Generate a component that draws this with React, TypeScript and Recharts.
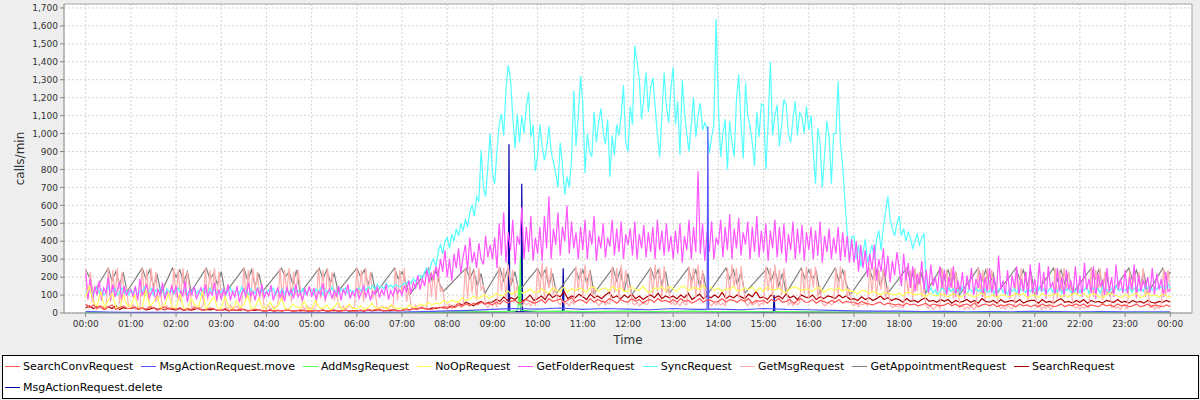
import { LineChart, Line, XAxis, YAxis, CartesianGrid, Legend, ReferenceLine } from "recharts";

const seriesNames = [
  "SearchConvRequest",
  "MsgActionRequest.move",
  "AddMsgRequest",
  "NoOpRequest",
  "GetFolderRequest",
  "SyncRequest",
  "GetMsgRequest",
  "GetAppointmentRequest",
  "SearchRequest",
  "MsgActionRequest.delete",
];
const seriesColors = ["#ff5555", "#5555ff", "#55ff55", "#ffff55", "#ff55ff", "#55ffff", "#ffafaf", "#808080", "#aa0000", "#0000aa"];

// minutes since midnight
const hourTicks = [0, 60, 120, 180, 240, 300, 360, 420, 480, 540, 600, 660, 720, 780, 840, 900, 960, 1020, 1080, 1140, 1200, 1260, 1320, 1380, 1440];
const callTicks = [0, 100, 200, 300, 400, 500, 600, 700, 800, 900, 1000, 1100, 1200, 1300, 1400, 1500, 1600, 1700];

// 3 minute samples, one row per hour
const syncCalls = [
  120, 105, 135, 95, 125, 140, 110, 130, 100, 120, 145, 105, 125, 135, 100, 115, 140, 110, 125, 100,
  130, 110, 140, 100, 125, 115, 145, 105, 120, 135, 100, 130, 110, 140, 120, 100, 135, 115, 125, 105,
  125, 140, 105, 120, 135, 100, 130, 115, 145, 110, 125, 100, 135, 120, 105, 140, 115, 130, 110, 125,
  115, 135, 100, 125, 140, 110, 120, 130, 105, 145, 115, 125, 100, 135, 120, 110, 140, 105, 130, 115,
  110, 130, 120, 140, 100, 125, 115, 135, 105, 130, 120, 100, 140, 115, 125, 110, 135, 105, 120, 130,
  125, 105, 135, 115, 140, 100, 130, 120, 110, 145, 115, 125, 105, 135, 120, 140, 110, 130, 115, 125,
  130, 140, 120, 150, 125, 145, 135, 155, 130, 160, 140, 150, 135, 165, 145, 155, 140, 160, 150, 145,
  155, 170, 160, 180, 165, 190, 175, 200, 210, 190, 230, 250, 220, 280, 300, 260, 340, 380, 330, 400,
  420, 360, 440, 400, 470, 430, 500, 460, 520, 480, 560, 600, 540, 650, 620, 910, 700, 650, 820, 1000,
  780, 720, 900, 1050, 1110, 990, 1250, 1380, 1300, 1100, 920, 1110, 950, 1100, 1000, 1150, 1230, 980, 1050, 790,
  880, 1050, 930, 850, 920, 1040, 900, 840, 780, 700, 950, 820, 660, 760, 700, 850, 1240, 930, 1100, 1320,
  1170, 780, 1000, 900, 870, 1120, 950, 1060, 1140, 1010, 940, 1080, 760, 990, 880, 1050, 990, 1100, 1270, 950,
  900, 1150, 1050, 1490, 1400, 1300, 1080, 1200, 1340, 1120, 1250, 1310, 1150, 1000, 870, 1100, 1340, 1150, 1060, 1250,
  1370, 1050, 1180, 880, 1300, 1120, 1000, 900, 1050, 1200, 980, 1100, 1170, 1020, 1060, 1030, 890, 980, 1050, 1640,
  1150, 870, 1000, 1080, 800, 1070, 950, 870, 1190, 1330, 1050, 860, 1280, 1100, 1040, 950, 820, 1120, 980, 1165,
  1160, 800, 1050, 1400, 990, 1100, 1160, 930, 1050, 1190, 1160, 1000, 950, 1080, 1180, 990, 1120, 1090, 1000, 1150,
  1020, 1100, 900, 720, 1030, 950, 700, 880, 1070, 980, 720, 1000, 1000, 1290, 950, 820, 630, 450, 300, 420,
  430, 300, 380, 260, 340, 410, 280, 330, 380, 300, 410, 460, 350, 480, 560, 650, 520, 470, 430, 500,
  540, 430, 470, 400, 450, 420, 360, 400, 440, 380, 420, 440, 130, 120, 140, 110, 130, 100, 120, 140,
  125, 110, 140, 120, 135, 100, 130, 115, 145, 120, 105, 135, 125, 110, 140, 120, 130, 105, 135, 115,
  120, 140, 110, 135, 125, 150, 115, 130, 105, 140, 120, 135, 110, 145, 125, 130, 115, 140, 120, 135,
  130, 110, 145, 120, 135, 105, 125, 140, 115, 130, 120, 145, 110, 135, 125, 140, 115, 130, 120, 145,
  115, 135, 125, 150, 110, 130, 140, 120, 135, 110, 145, 125, 130, 115, 140, 120, 150, 125, 135, 120,
  130, 120, 145, 115, 135, 150, 125, 140, 120, 155, 135, 150, 125, 145, 130, 155, 140, 150, 135, 160,
  140,
];

const getFolderCalls = [
  220, 80, 190, 60, 150, 100, 180, 70, 140, 110, 200, 75, 160, 90, 130, 170, 70, 150, 100, 120,
  130, 90, 150, 70, 190, 100, 120, 160, 80, 110, 140, 65, 130, 100, 170, 75, 120, 90, 150, 110,
  150, 70, 120, 95, 180, 60, 130, 100, 150, 80, 110, 140, 75, 160, 90, 120, 100, 170, 70, 130,
  75, 130, 100, 160, 70, 120, 90, 150, 60, 110, 135, 80, 170, 95, 120, 70, 140, 100, 160, 85,
  120, 95, 155, 70, 110, 140, 85, 125, 65, 145, 100, 130, 80, 160, 90, 115, 70, 135, 100, 150,
  90, 140, 70, 120, 100, 165, 75, 115, 135, 80, 125, 95, 150, 70, 130, 105, 160, 80, 120, 95,
  140, 80, 115, 150, 90, 130, 70, 120, 105, 145, 85, 130, 100, 160, 75, 125, 95, 140, 110, 130,
  100, 150, 120, 180, 110, 170, 140, 210, 130, 190, 150, 240, 170, 220, 190, 260, 200, 300, 230, 350,
  200, 300, 180, 330, 250, 360, 220, 310, 380, 240, 420, 280, 340, 250, 390, 300, 270, 430, 310, 380,
  300, 420, 250, 500, 320, 560, 280, 450, 350, 520, 270, 430, 380, 590, 300, 480, 340, 540, 290, 420,
  330, 480, 290, 540, 360, 650, 300, 470, 380, 560, 320, 480, 400, 600, 330, 510, 360, 450, 300, 480,
  350, 520, 300, 460, 380, 540, 290, 430, 360, 500, 310, 420, 370, 520, 320, 470, 340, 510, 300, 440,
  380, 470, 320, 510, 300, 440, 360, 490, 310, 450, 340, 480, 300, 520, 350, 460, 320, 500, 340, 430,
  300, 460, 330, 500, 280, 430, 350, 520, 300, 480, 340, 790, 330, 500, 290, 450, 340, 510, 300, 420,
  380, 520, 310, 480, 350, 550, 300, 470, 360, 530, 320, 450, 380, 510, 300, 480, 340, 540, 310, 460,
  340, 500, 290, 460, 360, 520, 310, 480, 330, 500, 280, 440, 350, 510, 300, 470, 330, 490, 290, 450,
  350, 480, 300, 460, 320, 510, 280, 430, 340, 470, 300, 420, 330, 480, 290, 450, 310, 430, 280, 410,
  280, 400, 230, 380, 250, 350, 200, 330, 240, 380, 180, 300, 230, 360, 200, 320, 170, 290, 210, 340,
  250, 150, 330, 180, 280, 140, 260, 120, 220, 160, 290, 130, 240, 110, 270, 150, 200, 120, 260, 140,
  240, 100, 200, 140, 260, 90, 180, 120, 230, 80, 210, 130, 250, 100, 190, 140, 220, 90, 200, 120,
  250, 110, 200, 90, 320, 130, 180, 100, 240, 80, 210, 140, 260, 100, 190, 120, 230, 90, 270, 110,
  190, 100, 280, 120, 230, 80, 260, 140, 170, 100, 250, 120, 200, 90, 240, 130, 180, 110, 260, 100,
  210, 90, 280, 130, 190, 110, 260, 80, 220, 150, 180, 100, 250, 120, 200, 90, 270, 130, 190, 110,
  240, 110, 200, 130, 270, 90, 210, 120, 180, 140, 200, 110, 250, 100, 220, 130, 190, 90, 230, 120,
  130,
];

const getMsgCalls = [
  250, 70, 230, 120, 30, 20, 40, 25, 35, 20, 250, 60, 240, 90, 250, 50, 230, 110, 140, 35,
  30, 45, 20, 35, 25, 250, 80, 240, 60, 250, 110, 230, 70, 120, 30, 20, 40, 25, 35, 250,
  90, 240, 60, 250, 100, 230, 130, 30, 40, 20, 35, 25, 45, 250, 70, 240, 110, 250, 60, 230,
  100, 130, 35, 20, 45, 25, 30, 40, 20, 35, 250, 90, 240, 60, 250, 120, 230, 80, 140, 30,
  25, 40, 20, 35, 30, 45, 250, 70, 240, 110, 250, 60, 230, 100, 240, 130, 35, 20, 40, 25,
  30, 20, 45, 250, 80, 240, 60, 250, 120, 230, 70, 140, 35, 25, 40, 20, 30, 45, 25, 35,
  250, 100, 240, 60, 250, 110, 230, 80, 130, 30, 20, 40, 25, 35, 20, 45, 30, 250, 70, 240,
  110, 250, 60, 140, 35, 20, 45, 25, 30, 40, 20, 35, 250, 90, 240, 70, 250, 120, 140, 40,
  30, 50, 25, 45, 35, 55, 30, 40, 250, 80, 260, 110, 240, 70, 250, 130, 150, 45, 30, 55,
  40, 60, 35, 260, 120, 250, 80, 270, 150, 240, 90, 160, 50, 35, 60, 45, 55, 40, 65, 45,
  250, 110, 280, 90, 260, 140, 250, 100, 150, 60, 45, 70, 50, 55, 40, 65, 50, 260, 120, 250,
  90, 270, 130, 240, 100, 150, 60, 40, 55, 70, 45, 60, 50, 260, 110, 250, 80, 270, 120, 240,
  140, 150, 55, 45, 60, 40, 50, 65, 45, 55, 250, 100, 270, 120, 250, 90, 260, 110, 150, 50,
  60, 45, 55, 40, 65, 50, 45, 260, 130, 250, 90, 270, 110, 240, 80, 150, 50, 40, 60, 45,
  60, 45, 55, 40, 250, 100, 270, 140, 250, 80, 260, 150, 55, 40, 60, 45, 50, 65, 40, 55,
  50, 260, 120, 250, 90, 270, 130, 240, 100, 250, 150, 45, 60, 40, 55, 45, 60, 250, 110, 260,
  80, 250, 140, 260, 90, 150, 55, 40, 50, 60, 45, 55, 250, 100, 260, 120, 240, 90, 140, 50,
  40, 60, 35, 50, 45, 55, 40, 250, 110, 260, 90, 240, 130, 250, 80, 150, 45, 30, 40, 35,
  40, 30, 35, 250, 100, 240, 70, 250, 120, 230, 90, 140, 35, 25, 40, 20, 30, 45, 25, 250,
  90, 240, 120, 250, 80, 230, 130, 30, 45, 20, 35, 25, 40, 20, 30, 250, 110, 240, 70, 250,
  130, 240, 90, 140, 40, 25, 35, 20, 45, 30, 25, 40, 240, 90, 250, 120, 230, 70, 250, 110,
  130, 30, 45, 20, 35, 25, 40, 20, 30, 250, 80, 240, 110, 250, 130, 230, 140, 40, 25, 35,
  20, 35, 25, 40, 30, 250, 90, 240, 120, 250, 70, 230, 100, 140, 30, 40, 25, 35, 20, 45,
  35, 25, 240, 110, 250, 80, 230, 130, 250, 90, 140, 30, 45, 20, 35, 25, 40, 250, 100, 240,
  120,
];

// 5 minute samples; no samples between the blocks, the line jumps across the gap
const getAppointmentCalls = [
  240, 200, 110, null, null, null, 250, 180, 230, 160, 220, 120,
  null, null, null, 250, 190, 240, 150, 210, 110, null, null, 250,
  200, 240, 170, 230, 120, null, null, null, 250, 190, 220, 160,
  230, 110, null, null, null, null, 250, 180, 240, 150, 220, 120,
  null, null, null, null, 250, 200, 230, 160, 240, 110, null, null,
  null, null, 250, 190, 240, 170, 220, 120, null, null, null, null,
  250, 200, 240, 160, 220, 110, null, null, null, null, 250, 190,
  230, 170, 100, null, null, null, null, 250, 180, 240, 160, 120,
  null, null, null, null, null, 250, 190, 240, 150, 220, 110, null,
  null, null, 250, 180, 240, 160, 230, 120, null, null, null, null,
  250, 200, 240, 150, 220, 110, null, null, null, null, 250, 190,
  240, 170, 230, 110, null, null, null, null, 250, 180, 240, 120,
  220, 100, null, null, null, null, 250, 190, 240, 160, 230, 110,
  null, null, null, null, 250, 180, 240, 150, 220, 100, null, null,
  null, null, 250, 190, 240, 160, 230, 110, null, null, null, null,
  null, 250, 180, 240, 150, 220, 110, null, null, null, 250, 190,
  240, 190, 230, 110, null, null, null, 250, 180, 240, 160, 100,
  null, null, null, null, 250, 190, 240, 150, 230, 110, null, null,
  null, null, 250, 180, 240, 160, 220, 110, null, null, null, 250,
  190, 240, 170, 230, 100, null, null, null, null, 250, 180, 240,
  160, 220, 110, null, null, null, null, 250, 190, 240, 150, 230,
  100, null, null, null, null, 250, 180, 240, 160, 220, 110, null,
  null, null, null, 250, 190, 240, 150, 230, 100, null, null, null,
  null, 250, 180, 240, 160, 220, 110, null, null, null, 250, 190,
  230,
];

const noOpCalls = [
  90, 150, 60, 40, 120, 30, 70, 110, 35, 25, 100, 40,
  40, 100, 30, 25, 130, 35, 60, 90, 20, 45, 110, 30,
  30, 110, 25, 20, 80, 45, 35, 120, 20, 60, 90, 30,
  25, 90, 35, 20, 70, 30, 45, 100, 20, 35, 80, 25,
  30, 60, 20, 40, 80, 25, 20, 50, 35, 25, 65, 20,
  20, 70, 30, 25, 45, 15, 35, 60, 20, 30, 50, 25,
  25, 40, 20, 30, 55, 25, 30, 35, 20, 45, 30, 25,
  30, 20, 45, 30, 35, 50, 40, 60, 45, 55, 50, 70,
  55, 70, 65, 60, 85, 70, 75, 95, 80, 90, 100, 85,
  90, 110, 95, 100, 125, 105, 115, 130, 110, 120, 135, 115,
  115, 135, 120, 110, 140, 125, 120, 145, 115, 135, 125, 140,
  130, 115, 140, 145, 120, 135, 140, 125, 150, 125, 140, 120,
  120, 145, 130, 125, 150, 120, 115, 140, 135, 145, 125, 150,
  135, 120, 145, 150, 125, 140, 140, 130, 155, 130, 145, 125,
  140, 120, 135, 130, 150, 125, 125, 140, 130, 145, 120, 140,
  120, 145, 130, 130, 140, 120, 115, 135, 145, 140, 125, 135,
  130, 120, 140, 140, 115, 130, 135, 125, 140, 120, 135, 120,
  120, 105, 125, 125, 110, 120, 115, 100, 115, 110, 105, 100,
  110, 95, 115, 115, 100, 105, 105, 90, 110, 100, 95, 105,
  100, 90, 105, 105, 85, 95, 110, 95, 90, 100, 110, 90,
  90, 105, 85, 100, 100, 90, 95, 110, 100, 110, 85, 95,
  100, 85, 110, 95, 95, 105, 105, 90, 100, 90, 105, 110,
  95, 110, 90, 105, 105, 90, 85, 100, 110, 100, 95, 85,
  105, 90, 100, 110, 85, 95, 110, 95, 100, 90, 105, 95,
  90,
];

const searchConvCalls = [
  50, 30, 45, 25, 40, 20, 35, 45, 20, 30, 40, 25,
  25, 35, 20, 30, 20, 35, 30, 15, 25, 35, 20, 25,
  20, 30, 15, 25, 20, 30, 25, 15, 18, 28, 22, 15,
  15, 25, 12, 20, 15, 22, 20, 12, 15, 22, 18, 12,
  12, 18, 10, 16, 12, 15, 16, 10, 12, 18, 15, 10,
  10, 15, 12, 18, 10, 14, 18, 10, 12, 15, 14, 10,
  12, 16, 10, 20, 14, 18, 20, 12, 14, 18, 15, 12,
  15, 22, 18, 25, 20, 28, 25, 20, 22, 30, 28, 35,
  25, 35, 30, 45, 38, 50, 40, 55, 45, 60, 50, 55,
  45, 60, 50, 70, 55, 65, 70, 55, 60, 75, 65, 55,
  60, 75, 55, 80, 65, 70, 80, 60, 70, 85, 60, 75,
  70, 55, 80, 60, 75, 65, 60, 80, 70, 55, 75, 65,
  60, 80, 65, 75, 55, 70, 75, 60, 80, 65, 70, 60,
  75, 60, 80, 65, 70, 55, 65, 80, 60, 75, 70, 60,
  65, 80, 60, 75, 70, 60, 75, 65, 80, 55, 70, 65,
  70, 55, 75, 65, 80, 60, 65, 75, 55, 70, 80, 60,
  60, 75, 55, 70, 65, 55, 70, 60, 75, 55, 65, 60,
  60, 50, 65, 55, 50, 45, 55, 60, 45, 55, 50, 45,
  50, 40, 55, 45, 50, 40, 45, 55, 40, 50, 45, 40,
  45, 55, 40, 50, 35, 45, 50, 40, 55, 35, 45, 50,
  40, 50, 35, 45, 40, 50, 45, 35, 50, 40, 45, 35,
  45, 35, 50, 40, 45, 35, 40, 50, 35, 45, 40, 50,
  40, 50, 35, 45, 40, 35, 50, 40, 45, 35, 50, 40,
  45, 35, 40, 50, 35, 40, 50, 35, 45, 40, 35, 45,
  35,
];

const searchCalls = [
  30, 40, 25, 35, 30, 20, 35, 25, 40, 20, 30, 25,
  25, 30, 20, 28, 18, 22, 30, 20, 25, 18, 28, 20,
  18, 25, 15, 20, 16, 22, 25, 15, 20, 18, 22, 15,
  15, 20, 12, 18, 14, 16, 20, 12, 16, 14, 18, 12,
  12, 16, 10, 14, 12, 15, 16, 10, 14, 12, 15, 10,
  10, 14, 12, 16, 10, 12, 15, 10, 13, 16, 11, 14,
  12, 15, 10, 18, 12, 16, 18, 12, 15, 13, 17, 14,
  15, 20, 18, 25, 22, 30, 25, 20, 28, 24, 32, 28,
  30, 40, 35, 55, 45, 60, 50, 40, 55, 65, 50, 60,
  60, 75, 65, 90, 70, 85, 75, 95, 65, 80, 100, 70,
  80, 95, 75, 110, 85, 100, 90, 120, 80, 95, 85, 105,
  90, 75, 105, 85, 95, 80, 100, 115, 85, 95, 80, 100,
  85, 105, 80, 95, 75, 90, 100, 85, 110, 80, 95, 85,
  95, 80, 100, 85, 110, 75, 90, 105, 80, 95, 85, 100,
  85, 115, 80, 95, 85, 100, 90, 80, 105, 90, 120, 85,
  90, 75, 100, 85, 95, 80, 105, 85, 95, 75, 100, 90,
  85, 100, 75, 90, 80, 95, 90, 80, 100, 85, 95, 75,
  80, 70, 90, 75, 85, 70, 80, 95, 75, 85, 70, 80,
  75, 60, 80, 65, 70, 60, 75, 85, 65, 70, 60, 75,
  65, 75, 55, 70, 60, 65, 75, 60, 70, 55, 80, 65,
  60, 70, 55, 75, 60, 65, 70, 60, 75, 55, 65, 70,
  70, 55, 75, 60, 65, 55, 70, 80, 60, 65, 55, 70,
  60, 75, 55, 70, 60, 65, 55, 70, 65, 60, 75, 60,
  65, 55, 70, 60, 65, 55, 70, 60, 55, 65, 60, 70,
  60,
];

// 30 minute samples, plus single-minute bursts [minute, calls]
const moveCalls = [8, 5, 4, 3, 3, 2, 2, 2, 2, 2, 2, 2, 3, 3, 5, 8, 12, 15, 20, 25, 22, 28, 20, 25, 22, 18, 25, 20, 22, 18, 25, 20, 18, 15, 12, 10, 10, 8, 9, 7, 8, 7, 9, 8, 7, 8, 6, 7, 6];
const moveBursts = [[825, 20], [826, 1040], [827, 22]];

const addMsgCalls = [3, 2, 2, 1, 1, 1, 1, 1, 1, 1, 1, 1, 1, 2, 2, 3, 5, 6, 8, 10, 9, 10, 8, 9, 10, 8, 9, 10, 8, 9, 7, 8, 6, 5, 5, 4, 4, 3, 3, 3, 3, 2, 3, 2, 2, 3, 2, 2, 2];
const addMsgBursts = [[574, 20], [575, 150], [576, 40], [577, 310], [578, 15]];

const deleteCalls = [3, 2, 2, 1, 1, 1, 1, 1, 1, 1, 1, 1, 1, 2, 2, 3, 4, 5, 6, 8, 7, 8, 6, 7, 8, 6, 7, 8, 6, 7, 5, 6, 5, 4, 4, 3, 3, 3, 3, 2, 3, 2, 2, 3, 2, 2, 2, 2, 2];
const deleteBursts = [[561, 6], [562, 940], [563, 8], [578, 7], [579, 720], [580, 8], [633, 6], [634, 250], [635, 7], [913, 5], [914, 100], [915, 6]];

type Pt = { t: number; v: number };

function toPoints(values: (number | null)[], step: number, bursts: number[][] = []): Pt[] {
  const pts: Pt[] = [];
  values.forEach((v, i) => {
    if (v !== null) pts.push({ t: i * step, v });
  });
  bursts.forEach(([t, v]) => pts.push({ t, v }));
  return pts.sort((a, b) => a.t - b.t);
}

const seriesData = [
  toPoints(searchConvCalls, 5),
  toPoints(moveCalls, 30, moveBursts),
  toPoints(addMsgCalls, 30, addMsgBursts),
  toPoints(noOpCalls, 5),
  toPoints(getFolderCalls, 3),
  toPoints(syncCalls, 3),
  toPoints(getMsgCalls, 3),
  toPoints(getAppointmentCalls, 5),
  toPoints(searchCalls, 5),
  toPoints(deleteCalls, 30, deleteBursts),
];

const X_MIN = -28.8;
const X_MAX = 1468.8;
const Y_MAX = 1722;
const FONT = '"DejaVu Sans", sans-serif';

const fmtHour = (t: number) => String(Math.round(t / 60) % 24).padStart(2, "0") + ":00";
const fmtCalls = (v: number) => v.toLocaleString("en-US");

function LegendBox() {
  return (
    <div
      style={{
        boxSizing: "border-box",
        width: 1197,
        height: 44,
        border: "1px solid #000",
        background: "#fff",
        display: "flex",
        flexWrap: "wrap",
        alignContent: "flex-start",
        paddingLeft: 2,
        fontFamily: FONT,
        fontSize: 11,
        color: "#000",
      }}
    >
      {seriesNames.map((name, i) => (
        <div key={name} style={{ display: "flex", alignItems: "center", height: 21, marginRight: 8, whiteSpace: "nowrap" }}>
          <span style={{ display: "inline-block", width: 15, height: 1, background: seriesColors[i], marginRight: 3 }} />
          <span>{name}</span>
        </div>
      ))}
    </div>
  );
}

export default function App() {
  // first series is painted last, so it sits on top
  const order = [9, 8, 7, 6, 5, 4, 3, 2, 1, 0];
  return (
    <div style={{ width: 1200, height: 400, background: "#eeeeee", position: "relative" }}>
      <style>{"body{margin:0}"}</style>
      <LineChart width={1200} height={400} margin={{ top: 4, right: 8, left: 0, bottom: 3 }}>
        <CartesianGrid stroke="#d4d4d4" strokeDasharray="2 2" fill="#ffffff" fillOpacity={1} />
        <XAxis
          type="number"
          dataKey="t"
          domain={[X_MIN, X_MAX]}
          allowDataOverflow
          ticks={hourTicks}
          interval={0}
          tickFormatter={fmtHour}
          height={40}
          stroke="#888"
          tickSize={4}
          tickMargin={4}
          tick={{ fill: "#333", fontSize: 9, fontFamily: FONT }}
          label={({ viewBox }: any) => (
            <text x={viewBox.x + viewBox.width / 2} y={viewBox.y + 27} textAnchor="middle" dominantBaseline="central" fill="#333" fontSize={12} fontFamily={FONT}>
              Time
            </text>
          )}
        />
        <YAxis
          type="number"
          dataKey="v"
          domain={[0, Y_MAX]}
          allowDataOverflow
          ticks={callTicks}
          interval={0}
          tickFormatter={fmtCalls}
          width={64}
          stroke="#888"
          tickSize={4}
          tickMargin={2}
          tick={{ fill: "#333", fontSize: 9, fontFamily: FONT }}
          label={({ viewBox }: any) => {
            const cx = viewBox.x + 20;
            const cy = viewBox.y + viewBox.height / 2;
            return (
              <text x={cx} y={cy} transform={`rotate(-90 ${cx} ${cy})`} textAnchor="middle" dominantBaseline="central" fill="#333" fontSize={12} fontFamily={FONT}>
                calls/min
              </text>
            );
          }}
        />
        <ReferenceLine y={Y_MAX} stroke="#aaa" />
        <ReferenceLine x={X_MAX} stroke="#aaa" />
        {order.map((i) => (
          <Line
            key={seriesNames[i]}
            data={seriesData[i]}
            dataKey="v"
            name={seriesNames[i]}
            type="linear"
            stroke={seriesColors[i]}
            strokeWidth={1.2}
            dot={false}
            activeDot={false}
            isAnimationActive={false}
          />
        ))}
        <Legend
          verticalAlign="bottom"
          content={() => <LegendBox />}
          wrapperStyle={{ left: 2, top: 355, bottom: "auto", width: 1197, height: 44 }}
        />
      </LineChart>
    </div>
  );
}
